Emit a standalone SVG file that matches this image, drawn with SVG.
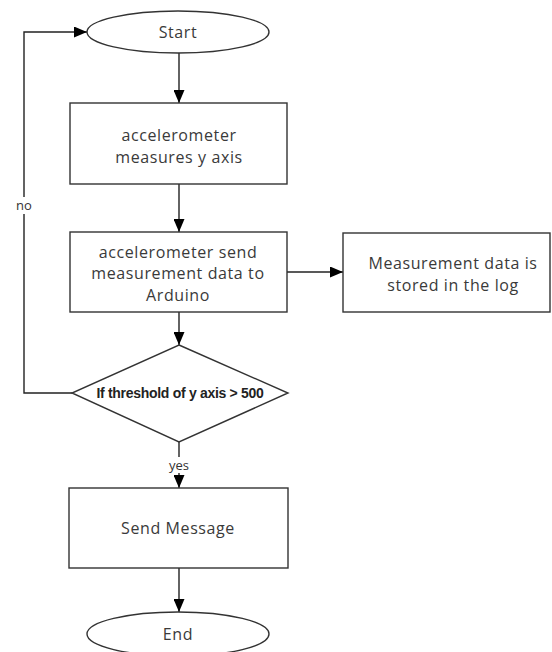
<svg xmlns="http://www.w3.org/2000/svg" width="552" height="652" viewBox="0 0 552 652">
<defs>
<marker id="arr" markerWidth="13" markerHeight="11" refX="13" refY="5.5" orient="auto" markerUnits="userSpaceOnUse">
<path d="M0,0 L13,5.5 L0,11 Z" fill="#000"/>
</marker>
<style>
.shape{fill:#fff;stroke:#333;stroke-width:1.4}
.conn{fill:none;stroke:#222;stroke-width:1.4}
.t{font-family:"Open Sans","Liberation Sans",sans-serif;font-size:16px;fill:#3a3a3a;text-anchor:middle;letter-spacing:0.6px}
.s{font-family:"Open Sans","Liberation Sans",sans-serif;font-size:13px;fill:#333;text-anchor:middle}
.b{font-family:"Liberation Sans",sans-serif;font-size:14px;font-weight:bold;fill:#222;text-anchor:middle;letter-spacing:-0.3px}
</style>
</defs>
<rect width="552" height="652" fill="#fff"/>
<g id="connectors">
<line class="conn" x1="179" y1="53" x2="179" y2="103" marker-end="url(#arr)"/>
<line class="conn" x1="179" y1="184" x2="179" y2="232" marker-end="url(#arr)"/>
<line class="conn" x1="179" y1="312" x2="179" y2="345" marker-end="url(#arr)"/>
<line class="conn" x1="287" y1="272" x2="343" y2="272" marker-end="url(#arr)"/>
<polyline class="conn" points="72,393 24,393 24,32 87,32" marker-end="url(#arr)"/>
<line class="conn" x1="179" y1="442" x2="179" y2="488" marker-end="url(#arr)"/>
<line class="conn" x1="179" y1="568" x2="179" y2="612" marker-end="url(#arr)"/>
<rect x="10" y="197" width="30" height="17" fill="#fff"/>
<text class="s" x="24" y="210">no</text>
<rect x="164" y="457" width="30" height="16" fill="#fff"/>
<text class="s" x="179" y="470">yes</text>
</g>
<g id="start">
<ellipse class="shape" cx="178" cy="32" rx="91" ry="21"/>
<text class="t" x="178" y="38">Start</text>
</g>
<g id="measure">
<rect class="shape" x="70" y="103" width="217" height="81"/>
<text class="t" x="179" y="141">accelerometer</text>
<text class="t" x="179" y="163">measures y axis</text>
</g>
<g id="send-data">
<rect class="shape" x="70" y="232" width="217" height="80"/>
<text class="t" x="178" y="258">accelerometer send</text>
<text class="t" x="178" y="279">measurement data to</text>
<text class="t" x="178" y="301">Arduino</text>
</g>
<g id="log">
<rect class="shape" x="343" y="233" width="207" height="79"/>
<text class="t" x="453" y="269">Measurement data is</text>
<text class="t" x="453" y="291">stored in the log</text>
</g>
<g id="decision">
<polygon class="shape" points="179,345 288,393 179,442 72,393"/>
<text class="b" x="180" y="398">If threshold of y axis &gt; 500</text>
</g>
<g id="send-message">
<rect class="shape" x="69" y="488" width="219" height="80"/>
<text class="t" x="178" y="534">Send Message</text>
</g>
<g id="end">
<ellipse class="shape" cx="178" cy="634" rx="91" ry="22"/>
<text class="t" x="178" y="640">End</text>
</g>
</svg>
